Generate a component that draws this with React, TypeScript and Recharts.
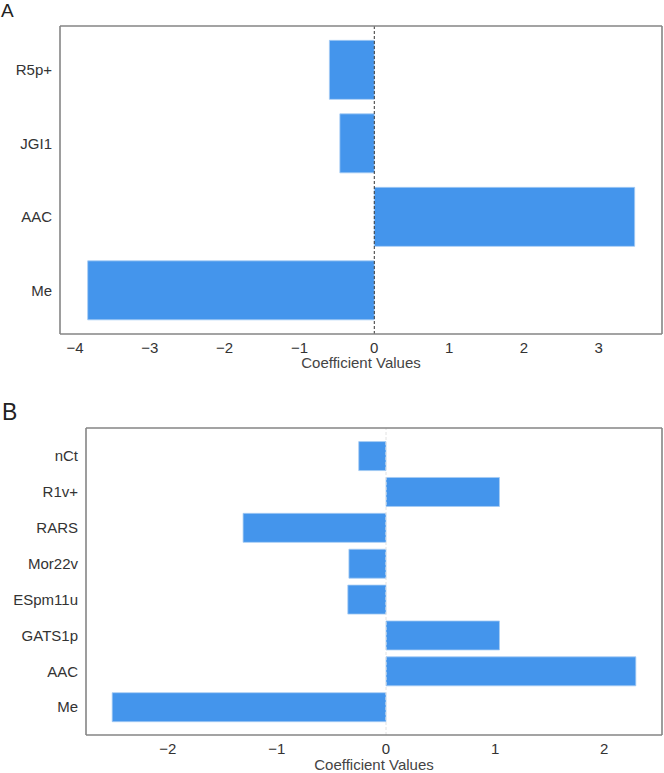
import React from 'react';
import { BarChart, Bar, XAxis, YAxis, ReferenceLine } from 'recharts';

// ---------------------------------------------------------------------------
// data
// ---------------------------------------------------------------------------

const catsA = ['R5p+', 'JGI1', 'AAC', 'Me'];
const coefA = [-0.6, -0.46, 3.48, -3.83];
const ticksA = [-4, -3, -2, -1, 0, 1, 2, 3];
const domainA: [number, number] = [-4.2, 3.845];

const catsB = ['nCt', 'R1v+', 'RARS', 'Mor22v', 'ESpm11u', 'GATS1p', 'AAC', 'Me'];
const coefB = [-0.25, 1.04, -1.31, -0.34, -0.35, 1.04, 2.29, -2.51];
const ticksB = [-2, -1, 0, 1, 2];
const domainB: [number, number] = [-2.75, 2.53];

// ---------------------------------------------------------------------------
// style
// ---------------------------------------------------------------------------

const FONT = '"Liberation Sans", Arial, Helvetica, sans-serif';
const BAR = '#4495ec';
const FRAME = '#858585';
const TICK = { fontSize: 15, fill: '#333', fontFamily: FONT };
const LINE = { stroke: FRAME, strokeWidth: 1.6 };

const fmt = (v: number) => (v < 0 ? `\u2212${Math.abs(v)}` : `${v}`);

interface PanelProps {
  cats: string[];
  coef: number[];
  ticks: number[];
  domain: [number, number];
  width: number;
  height: number;
  top: number;
  yWidth: number;
  xHeight: number;
  pad: number;
  labelOffset: number;
  zeroColor: string;
}

function Panel(p: PanelProps) {
  const data = p.cats.map((name, i) => ({ name, value: p.coef[i] }));
  return (
    <BarChart
      width={p.width}
      height={p.height}
      data={data}
      layout="vertical"
      barCategoryGap="10%"
      margin={{ top: p.top - 1, right: 1, bottom: 0, left: 0 }}
    >
      <XAxis
        type="number"
        domain={p.domain}
        ticks={p.ticks}
        allowDataOverflow
        tickFormatter={fmt}
        tick={TICK}
        tickLine={false}
        height={p.xHeight}
        axisLine={LINE}
        label={{
          value: 'Coefficient Values',
          position: 'insideBottom',
          offset: p.labelOffset,
          style: { fontSize: 15, fill: '#444', fontFamily: FONT },
        }}
      />
      {/* top edge of the frame */}
      <XAxis
        xAxisId="top"
        orientation="top"
        type="number"
        domain={p.domain}
        allowDataOverflow
        tick={false}
        tickLine={false}
        height={1}
        axisLine={LINE}
      />
      <YAxis
        type="category"
        dataKey="name"
        width={p.yWidth}
        tick={TICK}
        tickLine={false}
        padding={{ top: p.pad, bottom: p.pad }}
        axisLine={LINE}
      />
      {/* right edge of the frame */}
      <YAxis
        yAxisId="right"
        orientation="right"
        type="category"
        dataKey="name"
        width={1}
        tick={false}
        tickLine={false}
        axisLine={LINE}
      />
      <ReferenceLine x={0} stroke={p.zeroColor} strokeWidth={1} strokeDasharray="3 2" />
      <Bar dataKey="value" fill={BAR} stroke="#a6cbf4" strokeWidth={0.8} isAnimationActive={false} />
    </BarChart>
  );
}

export default function App() {
  return (
    <div
      style={{
        position: 'absolute',
        left: 0,
        top: 0,
        width: 664,
        height: 773,
        background: '#fff',
        fontFamily: FONT,
        overflow: 'hidden',
      }}
    >
      <div style={{ position: 'absolute', left: 1, top: 0, fontSize: 19, color: '#222', lineHeight: '22px' }}>A</div>
      <div style={{ position: 'absolute', left: 2, top: 399, fontSize: 23, color: '#222', lineHeight: '26px' }}>B</div>

      <div style={{ position: 'absolute', left: 0, top: 0 }}>
        <Panel
          cats={catsA}
          coef={coefA}
          ticks={ticksA}
          domain={domainA}
          width={664}
          height={380}
          top={26}
          yWidth={60}
          xHeight={46}
          pad={7}
          labelOffset={12}
          zeroColor="#333"
        />
      </div>

      <div style={{ position: 'absolute', left: 0, top: 380 }}>
        <Panel
          cats={catsB}
          coef={coefB}
          ticks={ticksB}
          domain={domainB}
          width={664}
          height={393}
          top={48}
          yWidth={86}
          xHeight={38}
          pad={10}
          labelOffset={3}
          zeroColor="#e2e2e2"
        />
      </div>
    </div>
  );
}
